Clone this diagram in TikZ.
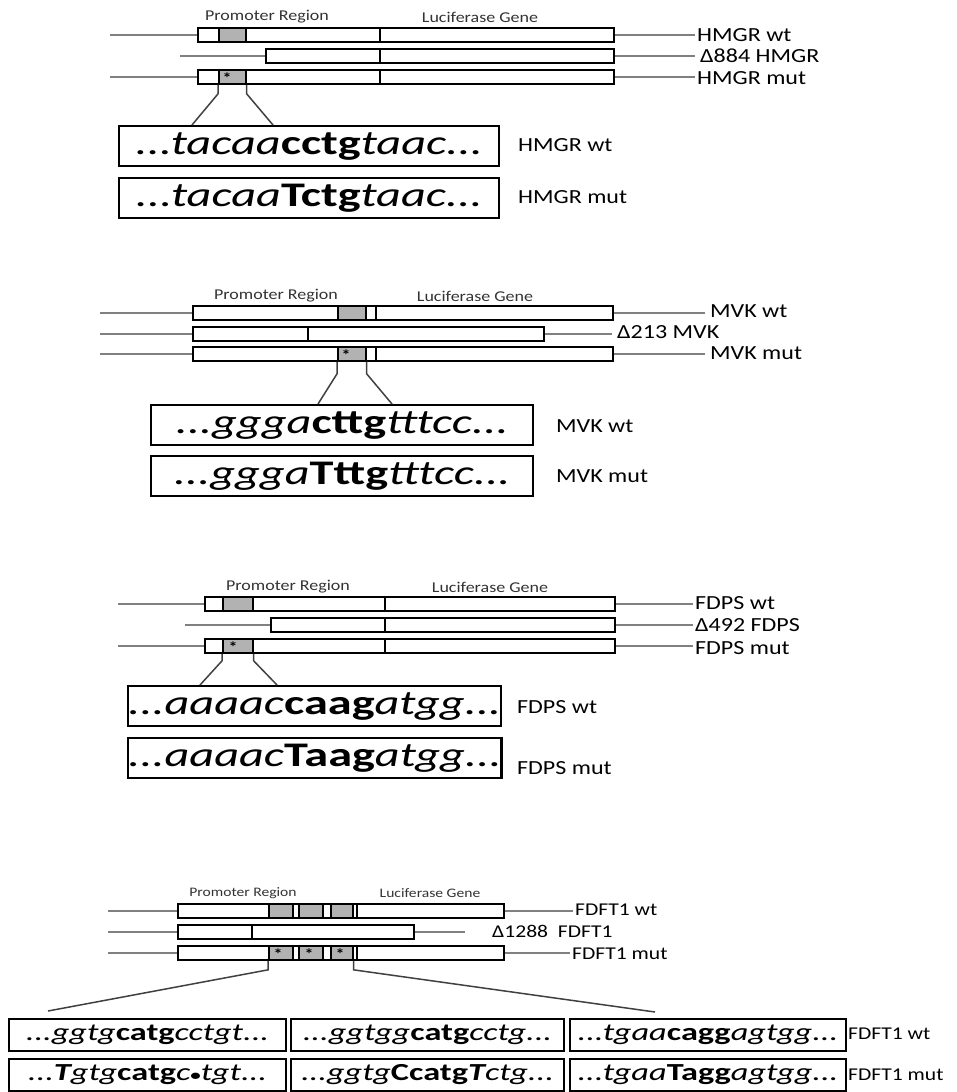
\documentclass[tikz,border=0pt]{standalone}
\usepackage{fontspec}
\setmainfont{Carlito}[FakeStretch=1.2]
\newfontfamily\seqf{Carlito}[FakeStretch=1.4]
\begin{document}
\begin{tikzpicture}[x=1pt,y=-1pt,
  cbox/.style={draw=black, line width=2pt, fill=white, minimum height=14pt, inner sep=0pt, anchor=west, rectangle},
  gbox/.style={draw=black, line width=1.7pt, fill=black!30, minimum height=14pt, inner sep=0pt, anchor=west, rectangle},
  divl/.style={draw=black, line width=1.4pt},
  wire/.style={draw=black!50, line width=1.8pt},
  callout/.style={draw=black!75, line width=1.5pt},
  lab/.style={anchor=west, inner sep=0pt, font=\fontsize{20}{22}\selectfont},
  slab/.style={anchor=west, inner sep=0pt, font=\fontsize{18}{20}\selectfont},
  hdr/.style={inner sep=0pt, font=\fontsize{15}{17}\selectfont, text=black!80},
  shdr/.style={inner sep=0pt, font=\fontsize{13}{15}\selectfont, text=black!80},
  star/.style={inner sep=0pt, font=\fontsize{15}{15}\selectfont\bfseries},
  seqbox/.style={draw=black, line width=2.2pt, anchor=north west, inner sep=0pt, minimum height=40pt, font=\seqf\fontsize{34.5}{36}\selectfont\itshape},
  fbox/.style={draw=black, line width=2pt, anchor=north west, inner sep=0pt, minimum height=32pt, font=\seqf\fontsize{24.5}{26}\selectfont\itshape},
]
\useasboundingbox (0,0) rectangle (957,1092);
\newcommand{\B}[1]{{\upshape\bfseries #1}}
\newcommand{\BI}[1]{{\bfseries #1}}

% ================= HMGR =================
\node[hdr] (hp) at (267,17) {Promoter Region};
\node[hdr] (hl) at (480,17) {Luciferase Gene};
% row 1
\coordinate (h1l) at (110,35);
\node[cbox, minimum width=416pt] (h1) at (197,35) {};
\node[gbox, minimum width=27pt] (h1g) at (218,35) {};
\draw[divl] (380,28) -- (380,42);
\node[lab] (h1t) at (697,35) {HMGR wt};
\draw[wire] (h1l) -- (h1.west);
\draw[wire] (h1.east) -- ([xshift=-2pt]h1.east -| h1t.west);
% row 2
\coordinate (h2l) at (180,56);
\node[cbox, minimum width=348pt] (h2) at (265,56) {};
\draw[divl] (380,49) -- (380,63);
\node[lab] (h2t) at (700,56) {Δ884 HMGR};
\draw[wire] (h2l) -- (h2.west);
\draw[wire] (h2.east) -- ([xshift=-5pt]h2.east -| h2t.west);
% row 3
\coordinate (h3l) at (110,77);
\node[cbox, minimum width=416pt] (h3) at (197,77) {};
\node[gbox, minimum width=27pt] (h3g) at (218,77) {};
\node[star] (h3s) at (227,78) {*};
\draw[divl] (380,70) -- (380,84);
\node[lab] (h3t) at (697,78) {HMGR mut};
\draw[wire] (h3l) -- (h3.west);
\draw[wire] (h3.east) -- ([xshift=-2pt]h3.east -| h3t.west);
% sequences
\node[seqbox, minimum width=380pt] (hs1) at (118,125) {...tacaa\B{cctg}taac...};
\node[seqbox, minimum width=380pt] (hs2) at (118,177) {...tacaa\B{Tctg}taac...};
\node[lab] (hs1t) at (518,145) {HMGR wt};
\node[lab] (hs2t) at (518,197) {HMGR mut};
\coordinate (hc1) at (192,125);
\coordinate (hc2) at (273,125);
\draw[callout] (h3g.south west) -- ++(0,9) -- (hc1);
\draw[callout] (h3g.south east) -- ++(0,9) -- (hc2);

% ================= MVK =================
\node[hdr] (mp) at (276,296) {Promoter Region};
\node[hdr] (ml) at (475,296) {Luciferase Gene};
% row 1
\coordinate (m1l) at (100,313);
\node[cbox, minimum width=420pt] (m1) at (192,313) {};
\node[gbox, minimum width=28pt] (m1g) at (337,313) {};
\draw[divl] (376,306) -- (376,320);
\node[lab] (m1t) at (710,311) {MVK wt};
\draw[wire] (m1l) -- (m1.west);
\draw[wire] (m1.east) -- ([xshift=-5pt]m1.east -| m1t.west);
% row 2
\coordinate (m2l) at (100,334);
\node[cbox, minimum width=351pt] (m2) at (192,334) {};
\draw[divl] (308,327) -- (308,341);
\node[lab] (m2t) at (617,332) {Δ213 MVK};
\draw[wire] (m2l) -- (m2.west);
\draw[wire] (m2.east) -- ([xshift=-5pt]m2.east -| m2t.west);
% row 3
\coordinate (m3l) at (100,354);
\node[cbox, minimum width=420pt] (m3) at (192,354) {};
\node[gbox, minimum width=28pt] (m3g) at (337,354) {};
\node[star] (m3s) at (346,355) {*};
\draw[divl] (376,347) -- (376,361);
\node[lab] (m3t) at (710,353) {MVK mut};
\draw[wire] (m3l) -- (m3.west);
\draw[wire] (m3.east) -- ([xshift=-5pt]m3.east -| m3t.west);
% sequences
\node[seqbox, minimum width=382pt] (ms1) at (150,404) {...ggga\B{cttg}tttcc...};
\node[seqbox, minimum width=382pt] (ms2) at (150,455) {...ggga\B{Tttg}tttcc...};
\node[lab] (ms1t) at (556,426) {MVK wt};
\node[lab] (ms2t) at (556,476) {MVK mut};
\coordinate (mc1) at (318,404);
\coordinate (mc2) at (392,404);
\draw[callout] (m3g.south west) -- ++(0,12) -- (mc1);
\draw[callout] (m3g.south east) -- ++(0,12) -- (mc2);

% ================= FDPS =================
\node[hdr] (fp) at (288,587) {Promoter Region};
\node[hdr] (fl) at (490,587) {Luciferase Gene};
% row 1
\coordinate (f1l) at (118,604);
\node[cbox, minimum width=410pt] (f1) at (204,604) {};
\node[gbox, minimum width=30pt] (f1g) at (222,604) {};
\draw[divl] (385,597) -- (385,611);
\node[lab] (f1t) at (695,603) {FDPS wt};
\draw[wire] (f1l) -- (f1.west);
\draw[wire] (f1.east) -- ([xshift=-2pt]f1.east -| f1t.west);
% row 2
\coordinate (f2l) at (185,625);
\node[cbox, minimum width=344pt] (f2) at (270,625) {};
\draw[divl] (385,618) -- (385,632);
\node[lab] (f2t) at (695,625) {Δ492 FDPS};
\draw[wire] (f2l) -- (f2.west);
\draw[wire] (f2.east) -- ([xshift=-2pt]f2.east -| f2t.west);
% row 3
\coordinate (f3l) at (118,646);
\node[cbox, minimum width=410pt] (f3) at (204,646) {};
\node[gbox, minimum width=30pt] (f3g) at (222,646) {};
\node[star] (f3s) at (233,647) {*};
\draw[divl] (385,639) -- (385,653);
\node[lab] (f3t) at (695,648) {FDPS mut};
\draw[wire] (f3l) -- (f3.west);
\draw[wire] (f3.east) -- ([xshift=-2pt]f3.east -| f3t.west);
% sequences
\node[seqbox, minimum width=370pt] (fs1) at (127,685) {...aaaac\B{caag}atgg...};
\node[seqbox, minimum width=370pt] (fs2) at (127,737) {...aaaac\B{Taag}atgg...};
\node[lab] (fs1t) at (517,707) {FDPS wt};
\node[lab] (fs2t) at (517,768) {FDPS mut};
\coordinate (fc1) at (200,685);
\coordinate (fc2) at (277,685);
\draw[callout] (f3g.south west) -- ++(0,7) -- (fc1);
\draw[callout] (f3g.south east) -- ++(0,7) -- (fc2);

% ================= FDFT1 =================
\node[shdr] (dp) at (243,893) {Promoter Region};
\node[shdr] (dl) at (430,893) {Luciferase Gene};
% row 1
\coordinate (d1l) at (108,911);
\node[cbox, minimum width=326pt] (d1) at (177,911) {};
\node[gbox, minimum width=24pt] (d1ga) at (268,911) {};
\node[gbox, minimum width=24pt] (d1gb) at (298,911) {};
\node[gbox, minimum width=22pt] (d1gc) at (330,911) {};
\draw[divl] (357,904) -- (357,918);
\node[slab] (d1t) at (575,910) {FDFT1 wt};
\draw[wire] (d1l) -- (d1.west);
\draw[wire] (d1.east) -- ([xshift=-2pt]d1.east -| d1t.west);
% row 2
\coordinate (d2l) at (108,932);
\coordinate (d2r) at (465,932);
\node[cbox, minimum width=236pt] (d2) at (177,932) {};
\draw[divl] (252,925) -- (252,939);
\node[slab] (d2t) at (492,931) {Δ1288~ FDFT1};
\draw[wire] (d2l) -- (d2.west);
\draw[wire] (d2.east) -- (d2r);
% row 3
\coordinate (d3l) at (108,953);
\node[cbox, minimum width=326pt] (d3) at (177,953) {};
\node[gbox, minimum width=24pt] (d3ga) at (268,953) {};
\node[gbox, minimum width=24pt] (d3gb) at (298,953) {};
\node[gbox, minimum width=22pt] (d3gc) at (330,953) {};
\node[star] (d3sa) at (278,954) {*};
\node[star] (d3sb) at (309,954) {*};
\node[star] (d3sc) at (340,954) {*};
\draw[divl] (357,946) -- (357,960);
\node[slab] (d3t) at (572,954) {FDFT1 mut};
\draw[wire] (d3l) -- (d3.west);
\draw[wire] (d3.east) -- ([xshift=-2pt]d3.east -| d3t.west);
% sequences
\node[fbox, minimum width=277pt] (da1) at (8,1018) {...ggtg\B{catg}cctgt...};
\node[fbox, minimum width=273pt] (db1) at (290,1018) {...ggtgg\B{catg}cctg...};
\node[fbox, minimum width=276pt] (dc1) at (569,1018) {...tgaa\B{cagg}agtgg...};
\node[fbox, minimum width=277pt] (da2) at (8,1058) {...\BI{T}gtg\B{catg}c{\upshape\fontsize{15}{15}\selectfont\bfseries •}tgt...};
\node[fbox, minimum width=273pt] (db2) at (290,1058) {...ggtg\B{Ccatg}\BI{T}ctg...};
\node[fbox, minimum width=276pt] (dc2) at (569,1058) {...tgaa\B{Tagg}agtgg...};
\node[slab] (ds1t) at (848,1034) {FDFT1 wt};
\node[slab] (ds2t) at (848,1075) {FDFT1 mut};
\coordinate (dc1c) at (48,1011);
\coordinate (dc2c) at (655,1012);
\draw[callout] (d3ga.south west) -- ++(0,9) -- (dc1c);
\draw[callout] (d3gc.south east) -- ++(0,9) -- (dc2c);
\end{tikzpicture}
\end{document}
